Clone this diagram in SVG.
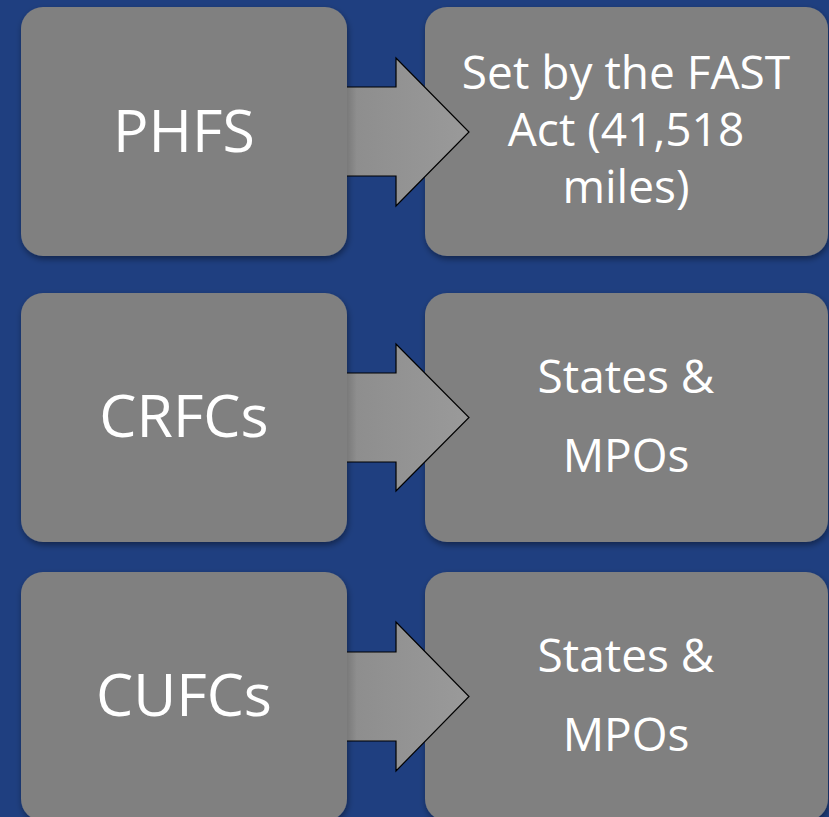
<svg xmlns="http://www.w3.org/2000/svg" width="829" height="817" viewBox="0 0 829 817">
<style>
.box{fill:#808080;filter:url(#sh)}
.arr{fill:url(#ag);stroke:#000;stroke-width:1.2;stroke-linejoin:miter}
.big{font-family:"Open Sans","Liberation Sans",sans-serif;font-size:59px;fill:#fff;text-anchor:middle}
.sm{font-family:"Open Sans","Liberation Sans",sans-serif;font-size:46px;fill:#fff;text-anchor:middle}
</style>
<defs>
<filter id="sh" x="-10%" y="-10%" width="120%" height="125%">
<feDropShadow dx="1" dy="3" stdDeviation="3" flood-color="#000" flood-opacity="0.4"/>
</filter>
<linearGradient id="ag" x1="0" y1="0" x2="1" y2="0">
<stop offset="0" stop-color="#7a7a7a"/>
<stop offset="0.08" stop-color="#8e8e8e"/>
<stop offset="1" stop-color="#9a9a9a"/>
</linearGradient>
</defs>
<rect width="829" height="817" fill="#1f3f80"/>
<g id="phfs"><rect class="box" x="21" y="7" width="326" height="249" rx="22"/><text class="big" x="184" y="152">PHFS</text></g>
<g id="crfcs"><rect class="box" x="21" y="293" width="326" height="249" rx="22"/><text class="big" x="184" y="437">CRFCs</text></g>
<g id="cufcs"><rect class="box" x="21" y="572" width="326" height="249" rx="22"/><text class="big" x="184" y="716">CUFCs</text></g>
<g id="fast"><rect class="box" x="425" y="7" width="403" height="249" rx="22"/><text class="sm" x="626" y="89">Set by the FAST</text><text class="sm" x="626" y="146">Act (41,518</text><text class="sm" x="626" y="203">miles)</text></g>
<g id="states1"><rect class="box" x="425" y="293" width="403" height="249" rx="22"/><text class="sm" x="626" y="393">States &amp;</text><text class="sm" x="626" y="472">MPOs</text></g>
<g id="states2"><rect class="box" x="425" y="572" width="403" height="249" rx="22"/><text class="sm" x="626" y="672">States &amp;</text><text class="sm" x="626" y="751">MPOs</text></g>
<g id="connectors">
<path class="arr" d="M347,87 H396 V58 L469,132 L396,206 V176 H347"/>
<path class="arr" d="M347,373 H396 V344 L469,417.5 L396,491 V462 H347"/>
<path class="arr" d="M347,652 H396 V622 L469,696.5 L396,771 V741 H347"/>
</g>
</svg>
